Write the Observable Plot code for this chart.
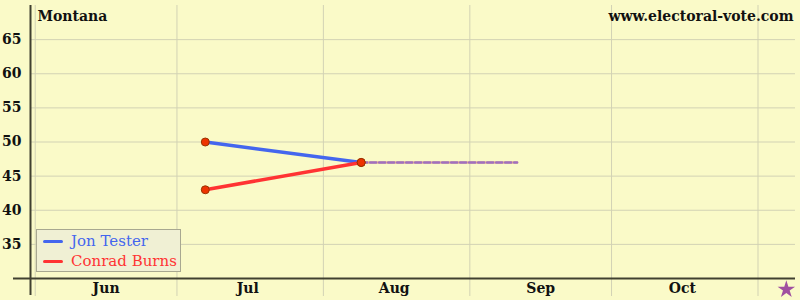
<!DOCTYPE html>
<html>
<head>
<meta charset="utf-8">
<script src="https://cdn.jsdelivr.net/npm/d3@7"></script>
<script src="https://cdn.jsdelivr.net/npm/@observablehq/plot@0.6"></script>
<style>
  html, body { margin: 0; padding: 0; background: #fafac8; }
  #wrap { position: relative; width: 800px; height: 300px; }
  #legend {
    position: absolute; left: 36px; top: 229px; width: 143px; height: 41px;
    background: #f0f0d4; border: 1px solid #a8a890;
    font-family: "DejaVu Serif", serif; font-size: 15px;
  }
  #legend .row { position: absolute; left: 6px; height: 20px; display: flex; align-items: center; }
  #legend .sw { width: 20px; height: 3px; border-radius: 2px; margin-right: 8px; }
</style>
</head>
<body>
<div id="wrap">
  <div id="chart"></div>
  <div id="legend">
    <div class="row" style="top:1px"><span class="sw" style="background:#4466ee"></span><span style="color:#4466ee">Jon Tester</span></div>
    <div class="row" style="top:21px"><span class="sw" style="background:#ff3333"></span><span style="color:#ff3333">Conrad Burns</span></div>
  </div>
</div>
<script>
// Data
const pollDates = ["2006-07-07", "2006-08-09"];
const tester = [50, 47];
const burns = [43, 47];
const projectionDates = ["2006-08-09", "2006-09-11"];
const projectionValues = [47, 47];
const monthStarts = ["2006-06-01", "2006-07-01", "2006-08-01", "2006-09-01", "2006-10-01", "2006-11-01"];
const monthLabelDates = ["2006-06-16", "2006-07-16", "2006-08-16", "2006-09-16", "2006-10-16"];
const yTicks = [35, 40, 45, 50, 55, 60, 65];
const electionDay = ["2006-11-07"];

const parse = d3.utcParse("%Y-%m-%d");
const testerData = pollDates.map((d, i) => ({date: parse(d), value: tester[i]}));
const burnsData = pollDates.map((d, i) => ({date: parse(d), value: burns[i]}));
const projData = projectionDates.map((d, i) => ({date: parse(d), value: projectionValues[i]}));
const allPoints = testerData.concat(burnsData);

const plot = Plot.plot({
  width: 800,
  height: 300,
  marginLeft: 30,
  marginRight: 0,
  marginTop: 5,
  marginBottom: 22,
  style: {background: "#fafac8", fontFamily: "DejaVu Serif, serif", fontWeight: "bold", fontSize: "14px", color: "#111"},
  x: {type: "utc", domain: [parse("2006-05-31"), parse("2006-11-10")]},
  y: {domain: [30, 70]},
  marks: [
    Plot.ruleY(yTicks, {stroke: "#d2d2b4", strokeWidth: 1, insetRight: 5}),
    Plot.ruleX(monthStarts.map(parse), {stroke: "#d2d2b4", strokeWidth: 1, insetBottom: -18}),
    Plot.axisY({ticks: yTicks, tickSize: 0, tickPadding: 9, label: null, fontSize: 14}),
    Plot.axisX({ticks: monthLabelDates.map(parse), tickFormat: "%b", tickSize: 0, tickPadding: 5, label: null, fontSize: 14}),
    Plot.ruleX([parse("2006-05-31")], {stroke: "#404030", strokeWidth: 2, insetBottom: -17}),
    Plot.ruleY([30], {stroke: "#404030", strokeWidth: 2, insetLeft: -17, insetRight: 5}),
    Plot.line(projData, {x: "date", y: "value", stroke: "#e8b890", strokeWidth: 2.5}),
    Plot.line(projData, {x: "date", y: "value", stroke: "#a070c0", strokeWidth: 2.5, strokeDasharray: "6,3"}),
    Plot.line(testerData, {x: "date", y: "value", stroke: "#4466ee", strokeWidth: 3.5}),
    Plot.line(burnsData, {x: "date", y: "value", stroke: "#ff3333", strokeWidth: 3.5}),
    Plot.dot(allPoints, {x: "date", y: "value", r: 4, fill: "#ee3300", stroke: "#993300", strokeWidth: 1}),
    Plot.dot(electionDay.map(parse), {x: d => d, frameAnchor: "bottom", dy: 11, symbol: "star", r: 5.5, fill: "#a050a0"}),
    Plot.text(["Montana"], {frameAnchor: "top-left", dx: 7, dy: 6, fontSize: 14, fontWeight: "bold", fill: "#111"}),
    Plot.text(["www.electoral-vote.com"], {frameAnchor: "top-right", dx: -7, dy: 6, fontSize: 14, fontWeight: "bold", fill: "#111"})
  ]
});
document.getElementById("chart").appendChild(plot);
</script>
</body>
</html>
